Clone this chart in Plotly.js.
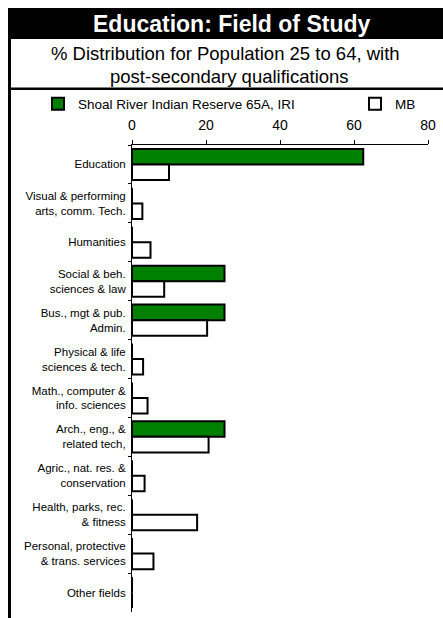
<!DOCTYPE html>
<html>
<head>
<meta charset="utf-8">
<script src="https://cdn.plot.ly/plotly-3.0.1.min.js"></script>
<style>html,body{margin:0;padding:0;background:#fff;}#chart{width:443px;height:618px;}</style>
</head>
<body>
<div id="chart"></div>
<script>
var categories = [
  "Education",
  "Visual & performing<br>arts, comm. Tech.",
  "Humanities",
  "Social & beh.<br>sciences & law",
  "Bus., mgt & pub.<br>Admin.",
  "Physical & life<br>sciences & tech.",
  "Math., computer &<br>info. sciences",
  "Arch., eng., &<br>related tech,",
  "Agric., nat. res. &<br>conservation",
  "Health, parks, rec.<br>& fitness",
  "Personal, protective<br>& trans. services",
  "Other fields"
];
var reserveValues = [62.5, 0, 0, 25, 25, 0, 0, 25, 0, 0, 0, 0];
var mbValues = [10.0, 2.8, 5.0, 8.7, 20.3, 3.0, 4.2, 20.7, 3.4, 17.6, 5.8, 0];
var seriesNames = ["Shoal River Indian Reserve 65A, IRI", "MB"];
var xTicks = [0, 20, 40, 60, 80];

var W = 443, H = 618;
var L = 132, R = 15, T = 145, B = 6;
var pw = W - L - R, ph = H - T - B;
function px(x) { return (x - L) / pw; }
function py(y) { return 1 - (y - T) / ph; }

var FONT = "Liberation Sans, Arial, sans-serif";

var traces = [
  {
    type: "bar", orientation: "h", name: seriesNames[0],
    y: categories, x: reserveValues, legend: "legend",
    marker: {color: "#008000", line: {color: "#000", width: 2}},
    hoverinfo: "x+name"
  },
  {
    type: "bar", orientation: "h", name: seriesNames[1],
    y: categories, x: mbValues, legend: "legend2",
    marker: {color: "#ffffff", line: {color: "#000", width: 2}},
    hoverinfo: "x+name"
  }
];

var legendFont = {family: FONT, size: 13.5, color: "#000"};

var layout = {
  width: W, height: H,
  margin: {l: L, r: R, t: T, b: B, pad: 0},
  paper_bgcolor: "#fff", plot_bgcolor: "#fff",
  font: {family: FONT, color: "#000", size: 11.5},
  barmode: "group", bargap: 0.2, bargroupgap: 0,
  showlegend: true,
  legend: {
    orientation: "h", x: px(38), xanchor: "left", y: py(104), yanchor: "middle",
    font: legendFont, bgcolor: "rgba(0,0,0,0)"
  },
  legend2: {
    orientation: "h", x: px(355), xanchor: "left", y: py(104), yanchor: "middle",
    font: legendFont, bgcolor: "rgba(0,0,0,0)"
  },
  xaxis: {
    side: "top", range: [0, 80], tickvals: xTicks, ticktext: xTicks.map(String),
    showgrid: false, zeroline: false, showline: true, linecolor: "#000", linewidth: 1,
    ticks: "outside", ticklen: 4, tickcolor: "#000", tickwidth: 1,
    tickfont: {family: FONT, size: 14, color: "#000"}, ticklabelstandoff: 4,
    fixedrange: true
  },
  yaxis: {
    type: "category", autorange: "reversed",
    showgrid: false, zeroline: false, showline: true, linecolor: "#000", linewidth: 1,
    ticks: "outside", ticklen: 3, tickcolor: "#000", tickson: "boundaries",
    tickfont: {family: FONT, size: 11.5, color: "#000"}, ticklabelstandoff: 3,
    fixedrange: true
  },
  shapes: [
    {type: "rect", xref: "paper", yref: "paper", x0: px(8), x1: px(443), y0: py(39), y1: py(8),
     fillcolor: "#000", line: {width: 0}, layer: "below"},
    {type: "rect", xref: "paper", yref: "paper", x0: px(8), x1: px(11), y0: py(618), y1: py(39),
     fillcolor: "#000", line: {width: 0}, layer: "below"},
    {type: "rect", xref: "paper", yref: "paper", x0: px(8), x1: px(443), y0: py(90), y1: py(87.5),
     fillcolor: "#000", line: {width: 0}, layer: "below"}
  ],
  annotations: [
    {text: "<b>Education: Field of Study</b>", xref: "paper", yref: "paper",
     x: px(231), y: py(23.5), xanchor: "center", yanchor: "middle", showarrow: false,
     font: {family: FONT, size: 23, color: "#fff"}},
    {text: "% Distribution for Population 25 to 64, with", xref: "paper", yref: "paper",
     x: px(225), y: py(53.5), xanchor: "center", yanchor: "middle", showarrow: false,
     font: {family: FONT, size: 18.5, color: "#000"}},
    {text: "post-secondary qualifications", xref: "paper", yref: "paper",
     x: px(229.5), y: py(76), xanchor: "center", yanchor: "middle", showarrow: false,
     font: {family: FONT, size: 18.5, color: "#000"}}
  ]
};

Plotly.newPlot("chart", traces, layout, {displayModeBar: false, staticPlot: true});
</script>
</body>
</html>
